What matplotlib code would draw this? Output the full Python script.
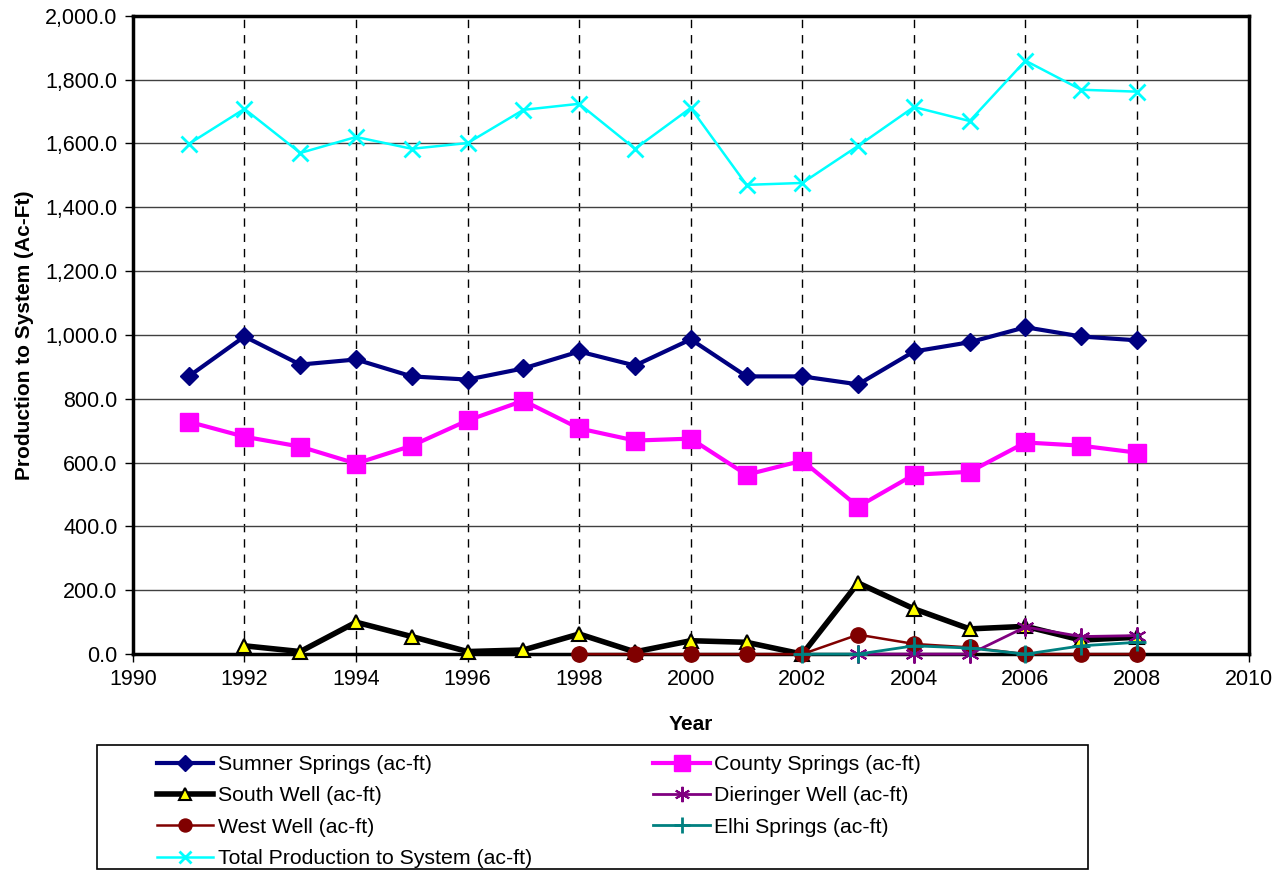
import numpy as np
import matplotlib
matplotlib.use("Agg")
import matplotlib.pyplot as plt
from matplotlib.patches import Rectangle
from matplotlib.ticker import FuncFormatter, MultipleLocator

plt.rcParams['font.family'] = ['Liberation Sans', 'DejaVu Sans']

years = list(range(1991, 2009))

sumner = [870, 995, 907, 923, 870, 860, 895, 948, 904, 986,
          870, 870, 845, 948, 977, 1024, 995, 983]
county = [728, 681, 650, 597, 653, 732, 794, 707, 669, 675,
          562, 606, 462, 562, 571, 663, 653, 631]
total = [1598, 1708, 1570, 1620, 1583, 1601, 1705, 1724, 1583, 1711,
         1470, 1476, 1592, 1714, 1670, 1859, 1768, 1762]

south_years = list(range(1992, 2009))
south = [26, 8, 100, 55, 8, 13, 63, 7, 42, 37, 0, 223, 142, 79, 87, 44, 53]

west_years = list(range(1998, 2009))
west = [0, 0, 0, 0, 0, 61, 32, 21, 0, 0, 0]

dier_years = list(range(2003, 2009))
dier = [0, 0, 0, 85, 55, 58]

elhi_years = list(range(2002, 2009))
elhi = [0, 0, 26, 19, 0, 26, 37]

fig = plt.figure(figsize=(12.78, 8.71), dpi=100)
ax = fig.add_axes([0.104, 0.249, 0.873, 0.733])

h_sum, = ax.plot(years, sumner, color='#000080', lw=3, marker='D', ms=9,
                 label='Sumner Springs (ac-ft)', zorder=5)
h_cty, = ax.plot(years, county, color='#FF00FF', lw=3, marker='s', ms=13,
                 label='County Springs (ac-ft)', zorder=4)
h_sou, = ax.plot(south_years, south, color='black', lw=4, marker='^', ms=10,
                 mfc='yellow', mec='black', mew=1.5,
                 label='South Well (ac-ft)', zorder=5)
h_die, = ax.plot(dier_years, dier, color='#800080', lw=2, marker=(6, 2, 0), ms=13,
                 mew=1.5, label='Dieringer Well (ac-ft)', zorder=7)
h_wes, = ax.plot(west_years, west, color='#800000', lw=1.8, marker='o', ms=11,
                 label='West Well (ac-ft)', zorder=6)
h_elh, = ax.plot(elhi_years, elhi, color='#008080', lw=2, marker='+', ms=13,
                 mew=2, label='Elhi Springs (ac-ft)', zorder=8)
h_tot, = ax.plot(years, total, color='#00FFFF', lw=1.8, marker='x', ms=11,
                 mew=2, label='Total Production to System (ac-ft)', zorder=5)

for h in [h_sum, h_cty, h_sou, h_die, h_wes, h_elh, h_tot]:
    h.set_clip_on(False)

ax.set_xlim(1990, 2010)
ax.set_ylim(0, 2000)
ax.xaxis.set_major_locator(MultipleLocator(2))
ax.yaxis.set_major_locator(MultipleLocator(200))
ax.yaxis.set_major_formatter(FuncFormatter(lambda v, p: f'{v:,.1f}'))

ax.grid(axis='y', color='#404040', lw=1)
ax.grid(axis='x', color='black', lw=1, ls=(0, (6, 5)))
ax.set_axisbelow(True)

for s in ax.spines.values():
    s.set_linewidth(2.5)
ax.tick_params(direction='out', length=6, width=1, labelsize=15.5, pad=5)

ax.set_xlabel('Year', fontsize=15, fontweight='bold', labelpad=18)
ax.set_ylabel('Production to System (Ac-Ft)', fontsize=15, fontweight='bold', labelpad=8)

# legend box drawn separately, entries placed without frame
fig.patches.append(Rectangle((0.0759, 0.0023), 0.7754, 0.1424, transform=fig.transFigure,
                             fill=False, edgecolor='black', lw=1.2))

handles = [h_sum, h_sou, h_wes, h_tot, h_cty, h_die, h_elh]
leg = fig.legend(handles=handles, labels=[h.get_label() for h in handles],
                 ncol=2, loc='upper left', bbox_to_anchor=(157 / 1278, 0.133),
                 fontsize=15.3, frameon=False, handlelength=2.65, handletextpad=0.22,
                 borderaxespad=0, borderpad=0, labelspacing=0.58, columnspacing=5.7,
                 markerscale=0.85)

fig.savefig('out.png', dpi=100)
